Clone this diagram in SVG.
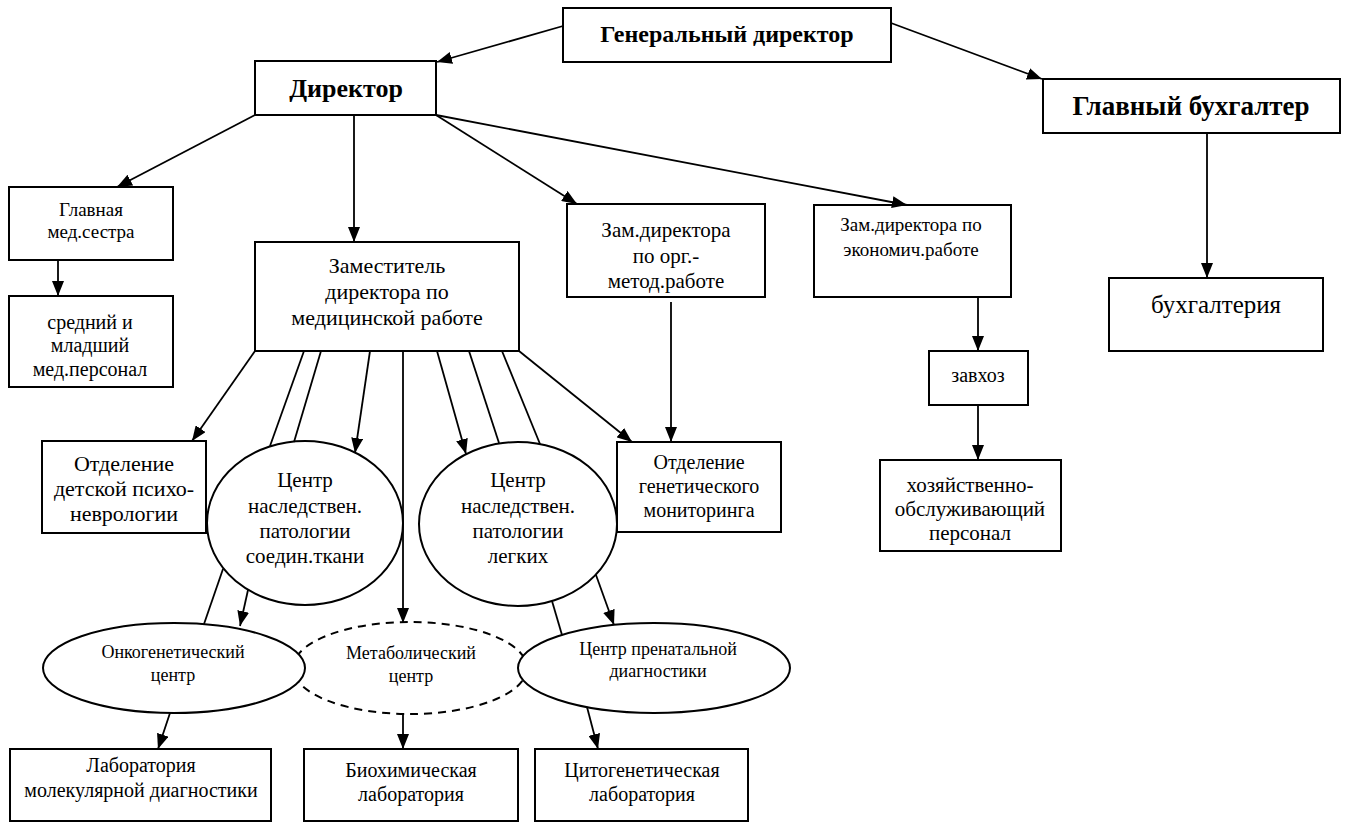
<svg xmlns="http://www.w3.org/2000/svg" width="1349" height="823" viewBox="0 0 1349 823">
<style>
rect,ellipse{fill:#fff;stroke:#000;stroke-width:2}
.dash{stroke-dasharray:8 6}
line{stroke:#000;stroke-width:1.8}
.a{marker-end:url(#ah)}
text{font-family:"Liberation Serif","Times New Roman",serif;fill:#000;text-anchor:middle}
.b{font-weight:bold}
</style>
<defs>
<marker id="ah" markerUnits="userSpaceOnUse" markerWidth="15" markerHeight="12" refX="15" refY="6" orient="auto"><path d="M0,0 L15,6 L0,12 z" fill="#000"/></marker>
</defs>
<g id="gen"><rect x="563" y="8" width="328" height="54"/><text class="b" x="727" y="42" font-size="24">Генеральный директор</text></g>
<g id="dir"><rect x="255" y="61" width="181" height="54"/><text class="b" x="346" y="97" font-size="26">Директор</text></g>
<g id="buh"><rect x="1043" y="79" width="297" height="54"/><text class="b" x="1191" y="115" font-size="27">Главный бухгалтер</text></g>
<g id="medsis"><rect x="9" y="187" width="164" height="73"/><text x="91" y="216" font-size="19">Главная</text><text x="91" y="238" font-size="19">мед.сестра</text></g>
<g id="sred"><rect x="9" y="296" width="164" height="91"/><text x="90" y="329" font-size="20">средний и</text><text x="90" y="352" font-size="20">младший</text><text x="90" y="376" font-size="20">мед.персонал</text></g>
<g id="zammed"><rect x="255" y="242" width="264" height="109"/><text x="387" y="273" font-size="22">Заместитель</text><text x="387" y="299" font-size="22">директора по</text><text x="387" y="325" font-size="22">медицинской работе</text></g>
<g id="zamorg"><rect x="567" y="204" width="198" height="93"/><text x="666" y="237" font-size="21">Зам.директора</text><text x="666" y="263" font-size="21">по орг.-</text><text x="666" y="288" font-size="21">метод.работе</text></g>
<g id="zamecon"><rect x="814" y="205" width="197" height="92"/><text x="911" y="231" font-size="19">Зам.директора по</text><text x="911" y="256" font-size="19">экономич.работе</text></g>
<g id="buhg"><rect x="1109" y="278" width="214" height="73"/><text x="1216" y="313" font-size="25">бухгалтерия</text></g>
<g id="zavhoz"><rect x="929" y="351" width="99" height="54"/><text x="978" y="382" font-size="20">завхоз</text></g>
<g id="hoz"><rect x="880" y="460" width="181" height="91"/><text x="970" y="492" font-size="21">хозяйственно-</text><text x="970" y="516" font-size="21">обслуживающий</text><text x="970" y="540" font-size="21">персонал</text></g>
<g id="otdpsy"><rect x="42" y="441" width="164" height="92"/><text x="124" y="471" font-size="22">Отделение</text><text x="124" y="496" font-size="22">детской психо-</text><text x="124" y="521" font-size="22">неврологии</text></g>
<g id="ctk"><ellipse cx="305" cy="523" rx="98" ry="82"/><text x="305" y="487" font-size="21">Центр</text><text x="305" y="513" font-size="21">наследствен.</text><text x="305" y="538" font-size="21">патологии</text><text x="305" y="563" font-size="21">соедин.ткани</text></g>
<g id="clung"><ellipse cx="518" cy="524" rx="99" ry="82"/><text x="518" y="487" font-size="21">Центр</text><text x="518" y="513" font-size="21">наследствен.</text><text x="518" y="538" font-size="21">патологии</text><text x="518" y="563" font-size="21">легких</text></g>
<g id="otdgen"><rect x="617" y="442" width="164" height="90"/><text x="699" y="469" font-size="20">Отделение</text><text x="699" y="493" font-size="20">генетического</text><text x="699" y="517" font-size="20">мониторинга</text></g>
<g id="metab"><ellipse class="dash" cx="410" cy="668" rx="117" ry="46"/><text x="411" y="659" font-size="18">Метаболический</text><text x="411" y="682" font-size="18">центр</text></g>
<g id="onko"><ellipse cx="174" cy="668" rx="131" ry="45"/><text x="173" y="658" font-size="18">Онкогенетический</text><text x="173" y="681" font-size="18">центр</text></g>
<g id="pren"><ellipse cx="654" cy="668" rx="136" ry="45"/><text x="658" y="655" font-size="18">Центр пренатальной</text><text x="658" y="677" font-size="18">диагностики</text></g>
<g id="labmol"><rect x="10" y="749" width="261" height="72"/><text x="141" y="772" font-size="20">Лаборатория</text><text x="141" y="797" font-size="20">молекулярной диагностики</text></g>
<g id="biochem"><rect x="304" y="749" width="214" height="72"/><text x="411" y="777" font-size="20">Биохимическая</text><text x="411" y="801" font-size="20">лаборатория</text></g>
<g id="cito"><rect x="535" y="749" width="213" height="72"/><text x="642" y="777" font-size="20">Цитогенетическая</text><text x="642" y="801" font-size="20">лаборатория</text></g>
<g id="connectors">
<line class="a" x1="563" y1="26" x2="437" y2="62"/>
<line class="a" x1="891" y1="23" x2="1042" y2="79"/>
<line class="a" x1="255" y1="115" x2="117" y2="187"/>
<line class="a" x1="354" y1="115" x2="354" y2="242"/>
<line class="a" x1="436" y1="115" x2="577" y2="204"/>
<line class="a" x1="436" y1="115" x2="907" y2="205"/>
<line class="a" x1="1207" y1="133" x2="1207" y2="278"/>
<line class="a" x1="58" y1="260" x2="58" y2="296"/>
<line class="a" x1="978" y1="297" x2="978" y2="351"/>
<line class="a" x1="978" y1="405" x2="978" y2="460"/>
<line class="a" x1="255" y1="351" x2="192" y2="441"/>
<line x1="304" y1="351" x2="270" y2="446"/>
<line x1="321" y1="351" x2="294" y2="442"/>
<line class="a" x1="370" y1="351" x2="355" y2="453"/>
<line class="a" x1="403" y1="351" x2="403" y2="623"/>
<line class="a" x1="437" y1="351" x2="466" y2="454"/>
<line x1="469" y1="351" x2="499" y2="443"/>
<line x1="502" y1="351" x2="540" y2="444"/>
<line class="a" x1="519" y1="351" x2="632" y2="442"/>
<line class="a" x1="671" y1="302" x2="671" y2="442"/>
<line x1="223" y1="569" x2="204" y2="624"/>
<line class="a" x1="248" y1="590" x2="240" y2="626"/>
<line x1="552" y1="601" x2="562" y2="635"/>
<line class="a" x1="596" y1="575" x2="614" y2="625"/>
<line class="a" x1="170" y1="713" x2="158" y2="749"/>
<line class="a" x1="403" y1="714" x2="403" y2="749"/>
<line class="a" x1="587" y1="707" x2="598" y2="749"/>
</g>
</svg>
